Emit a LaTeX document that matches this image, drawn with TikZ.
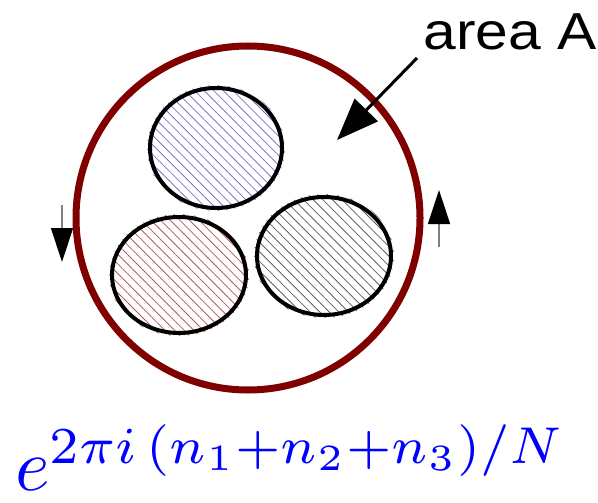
\documentclass[tikz,border=0pt]{standalone}
\usepackage{amsmath,amssymb}
\usepackage{fontspec}
\usepackage{xcolor}
\newfontfamily\labelfont{Liberation Sans}
\usetikzlibrary{arrows.meta,patterns.meta}
\definecolor{ringred}{rgb}{0.5,0,0}
\definecolor{hatchblue}{RGB}{120,120,200}
\definecolor{hatchred}{RGB}{180,90,90}
\definecolor{hatchgray}{RGB}{95,95,95}
\tikzset{
  blob/.style={draw=black,line width=2pt},
  hatch/.style={pattern={Lines[angle=-45,distance=3.4pt,line width=0.4pt]},pattern color=#1},
  flow/.style={gray,line width=0.7pt,-{Triangle[length=17pt,width=11pt,color=black]}}
}
\begin{document}
\begin{tikzpicture}[x=0.5pt,y=-0.5pt]
\useasboundingbox (0,0) rectangle (598,502);
% hatched regions
\fill[hatch=hatchblue] (216,148) ellipse [x radius=69,y radius=63];
\draw[blob] (216,148) ellipse [x radius=66,y radius=60];
\fill[hatch=hatchred] (179,275) ellipse [x radius=70,y radius=61];
\draw[blob] (179,275) ellipse [x radius=67,y radius=58];
\fill[hatch=hatchgray] (324,256) ellipse [x radius=70,y radius=62];
\draw[blob] (324,256) ellipse [x radius=67,y radius=59];
% boundary loop
\draw[ringred,line width=3.5pt] (248,218) circle [radius=172];
\coordinate (downtail) at (62,205);
\coordinate (downtip) at (62,262);
\draw[flow] (downtail) -- (downtip);
\coordinate (uptail) at (439,247);
\coordinate (uptip) at (439,190);
\draw[flow] (uptail) -- (uptip);
% label
\node[anchor=base west,inner sep=0pt] (areaA) at (423,50)
  {\labelfont\fontsize{26}{30}\selectfont\scalebox{1.13}[1]{area A}};
\coordinate (areastart) at (417,58);
\coordinate (areatip) at (337,140);
\draw[line width=1.5pt,-{Triangle[length=21pt,width=16pt]}] (areastart) -- (areatip);
\node[anchor=base west,inner sep=0pt,text=blue] (phase) at (15,490)
  {\scalebox{3.7}{$e^{2\pi i\,(n_1+n_2+n_3)/N}$}};
\end{tikzpicture}
\end{document}
